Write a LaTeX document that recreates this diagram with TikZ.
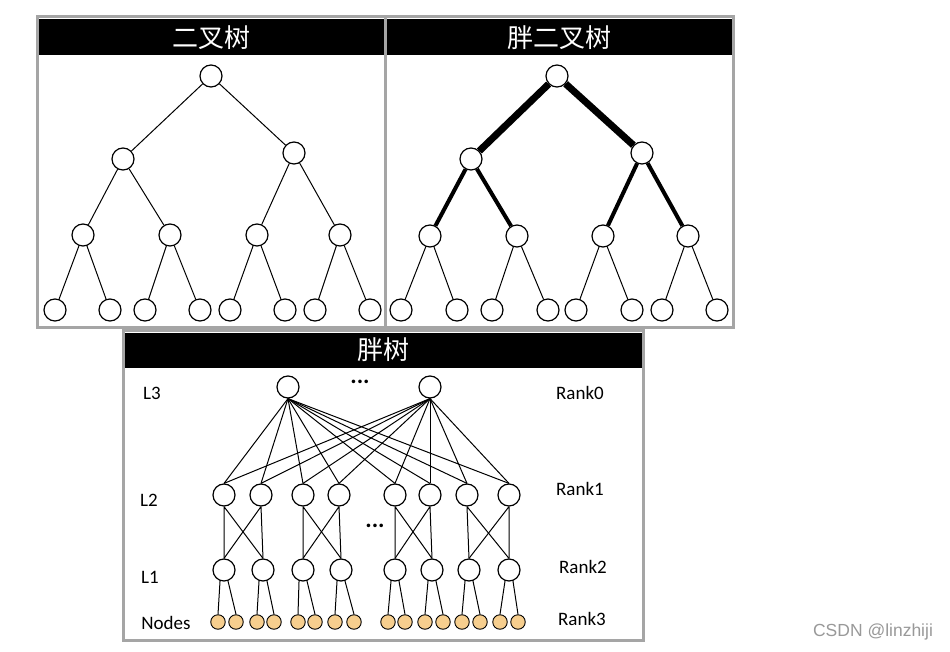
\documentclass[tikz,border=0pt]{standalone}
\usepackage{fontspec}
\setsansfont{Carlito}
\newfontfamily\cjkfont{Noto Sans CJK SC}
\newfontfamily\markfont{Liberation Sans}
\definecolor{leafcol}{RGB}{246,206,142}
\definecolor{framecol}{RGB}{165,165,165}
\begin{document}
\begin{tikzpicture}[x=1pt,y=-1pt,
		vtx/.style={draw,circle,minimum size=22pt,inner sep=0pt,line width=1.2pt,fill=white},
		leaf/.style={draw,circle,minimum size=14.5pt,inner sep=0pt,line width=0.9pt,fill=leafcol},
		frame/.style={draw=framecol,line width=3pt,fill=white},
		titlebar/.style={fill=black,text=white,inner sep=0pt,font=\cjkfont\fontsize{26}{28}\selectfont},
		lbl/.style={font=\sffamily\fontsize{19}{22}\selectfont},
		dotsep/.style={font=\sffamily\bfseries\fontsize{24}{26}\selectfont},
		edge/.style={line width=1pt}]
	\useasboundingbox[fill=white] (0,0) rectangle (950,652);
	% panels
	\draw[frame] (37,17) rectangle (385,327);
	\draw[frame] (385,17) rectangle (733,327);
	\draw[frame] (123,330) rectangle (643,640);
	\node[titlebar,minimum width=345pt,minimum height=36pt] (ttlA) at (211,37.5) {二叉树};
	\node[titlebar,minimum width=345pt,minimum height=36pt] (ttlB) at (559,37.5) {胖二叉树};
	\node[titlebar,minimum width=517pt,minimum height=35pt] (ttlC) at (383,350) {胖树};
	% binary tree
	\node[vtx] (r) at (211,76) {};
	\node[vtx] (p1) at (123,159) {};
	\node[vtx] (p2) at (294,153) {};
	\foreach \x [count=\i] in {83,170,257,340}
		\node[vtx] (q\i) at (\x,235) {};
	\foreach \x [count=\i] in {55,110,145,200,230,285,315,370}
		\node[vtx] (s\i) at (\x,310) {};
	\draw[edge] (r) -- (p1) (r) -- (p2);
	\draw[edge] (p1) -- (q1) (p1) -- (q2) (p2) -- (q3) (p2) -- (q4);
	\draw[edge] (q1) -- (s1) (q1) -- (s2) (q2) -- (s3) (q2) -- (s4);
	\draw[edge] (q3) -- (s5) (q3) -- (s6) (q4) -- (s7) (q4) -- (s8);
	% fat binary tree
	\node[vtx] (fr) at (557,76) {};
	\node[vtx] (fp1) at (471,159) {};
	\node[vtx] (fp2) at (642,153) {};
	\foreach \x [count=\i] in {430,517,603,688}
		\node[vtx] (fq\i) at (\x,236) {};
	\foreach \x [count=\i] in {401,457,492,548,576,632,662,717}
		\node[vtx] (fs\i) at (\x,310) {};
	\draw[line width=7pt] (fr) -- (fp1) (fr) -- (fp2);
	\draw[line width=4pt] (fp1) -- (fq1) (fp1) -- (fq2) (fp2) -- (fq3) (fp2) -- (fq4);
	\draw[edge] (fq1) -- (fs1) (fq1) -- (fs2) (fq2) -- (fs3) (fq2) -- (fs4);
	\draw[edge] (fq3) -- (fs5) (fq3) -- (fs6) (fq4) -- (fs7) (fq4) -- (fs8);
	% fat tree
	\node[vtx] (t1) at (288,387) {};
	\node[vtx] (t2) at (430,387) {};
	\node[dotsep] (dotsA) at (360,382) {...};
	\node[dotsep] (dotsB) at (375,526) {...};
	\foreach \x [count=\i] in {224,261,303,339,395,430,467,509}
		\node[vtx] (a\i) at (\x,495) {};
	\foreach \x [count=\i] in {224,263,303,341,395,432,469,509}
		\node[vtx] (b\i) at (\x,570) {};
	\foreach \x [count=\i] in {218,236,257,274,298,315,335,354,388,405,425,443,462,480,500,518}
		\node[leaf] (n\i) at (\x,622) {};
	\foreach \t in {t1,t2}
		\foreach \i in {1,...,8}
			\draw[edge] (\t.south) -- (a\i.north);
	\foreach \i/\j in {1/2,3/4,5/6,7/8} {
		\draw[edge] (a\i.south) -- (b\i.north) (a\i.south) -- (b\j.north);
		\draw[edge] (a\j.south) -- (b\i.north) (a\j.south) -- (b\j.north);
	}
	\foreach \i [evaluate=\i as \k using int(2*\i-1), evaluate=\i as \m using int(2*\i)] in {1,...,8} {
		\draw[edge] (b\i.250) -- (n\k.north);
		\draw[edge] (b\i.290) -- (n\m.north);
	}
	% level and rank labels
	\node[lbl] (lthree) at (152,393) {L3};
	\node[lbl] (ltwo) at (149,500) {L2};
	\node[lbl] (lone) at (150,577) {L1};
	\node[lbl] (lnodes) at (166,623) {Nodes};
	\node[lbl] (rk0) at (580,393) {Rank0};
	\node[lbl] (rk1) at (580,489) {Rank1};
	\node[lbl] (rk2) at (583,567) {Rank2};
	\node[lbl] (rk3) at (582,619) {Rank3};
	% watermark
	\node[text=gray!80,font=\markfont\fontsize{17.5}{20}\selectfont] (wm) at (873,632) {CSDN @linzhiji};
\end{tikzpicture}
\end{document}
